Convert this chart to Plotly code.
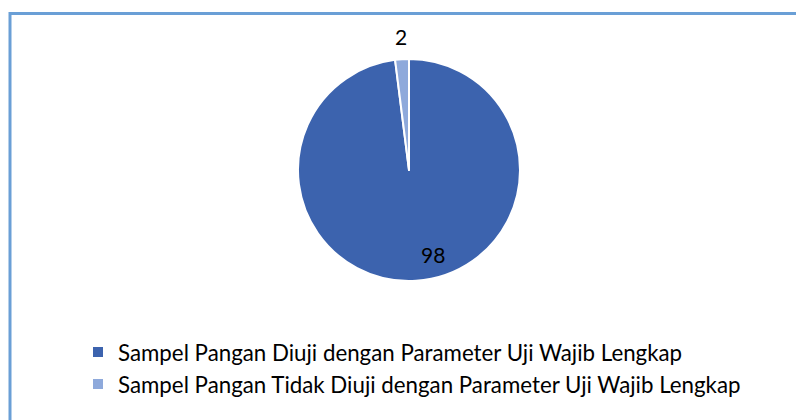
import plotly.graph_objects as go

labels = ["Sampel Pangan Diuji dengan Parameter Uji Wajib Lengkap",
          "Sampel Pangan Tidak Diuji dengan Parameter Uji Wajib Lengkap"]
values = [98, 2]
colors = ["#3C63AE", "#8EA9DB"]

W, H = 796, 420
cx, cy, r = 409, 170, 111

fig = go.Figure(go.Pie(
    labels=labels,
    values=values,
    sort=False,
    direction="clockwise",
    rotation=0,
    marker=dict(colors=colors, line=dict(color="white", width=2)),
    textinfo="none",
    hoverinfo="label+value",
    domain=dict(x=[(cx - r) / W, (cx + r) / W], y=[1 - (cy + r) / H, 1 - (cy - r) / H]),
))

# data labels (positions follow the reference's label placement)
label_pos = [(433, 255), (401, 36)]
annotations = []
for v, (lx, ly) in zip(values, label_pos):
    annotations.append(dict(
        text=str(v), x=lx / W, y=1 - ly / H, xref="paper", yref="paper",
        xanchor="center", yanchor="middle", showarrow=False,
        font=dict(size=21, family="Lato", color="black"),
    ))

fig.update_layout(
    width=W, height=H,
    margin=dict(l=0, r=0, t=0, b=0),
    paper_bgcolor="white",
    plot_bgcolor="white",
    font=dict(family="Lato", color="black"),
    showlegend=True,
    legend=dict(
        x=78 / W, y=1 - 331 / H, xanchor="left", yanchor="top",
        font=dict(size=22.3, family="Lato", color="black"),
        bgcolor="rgba(0,0,0,0)",
    ),
    annotations=annotations,
    shapes=[
        dict(type="line", xref="paper", yref="paper",
             x0=10 / W, x1=1.02, y0=1 - 13.5 / H, y1=1 - 13.5 / H,
             line=dict(color="#6A9FD6", width=3)),
        dict(type="line", xref="paper", yref="paper",
             x0=10 / W, x1=10 / W, y0=1 - 12 / H, y1=-0.02,
             line=dict(color="#6A9FD6", width=3)),
    ],
)

fig.write_html(
    "out.html",
    config={"displayModeBar": False},
    post_script="document.body.style.margin='0';"
                "document.documentElement.style.overflow='hidden';",
)
